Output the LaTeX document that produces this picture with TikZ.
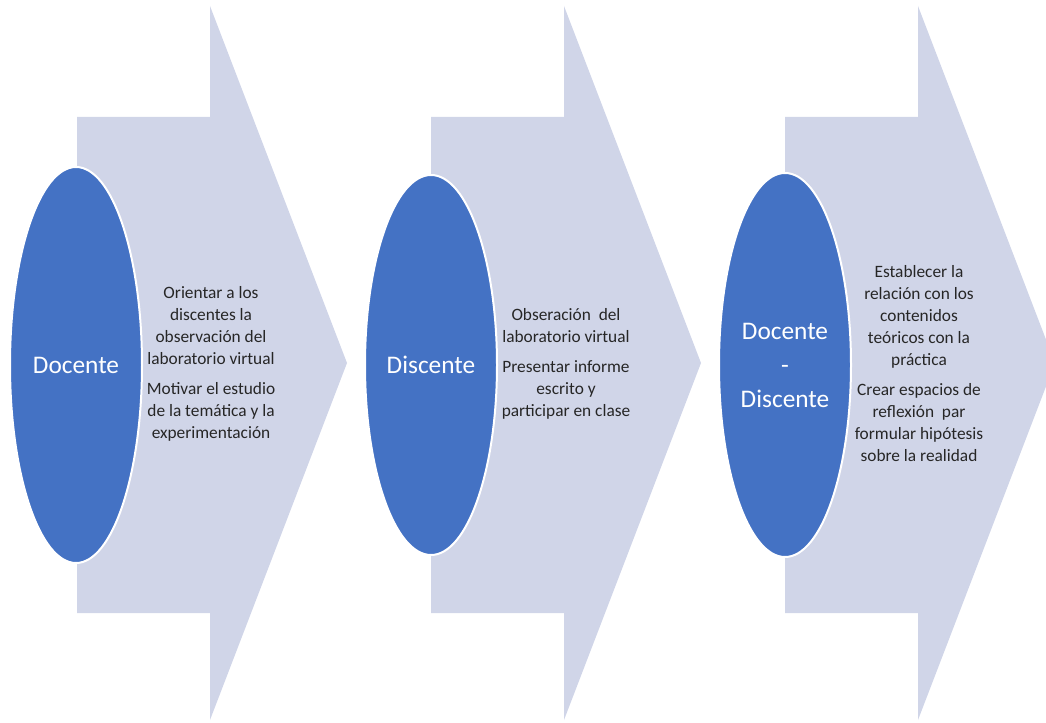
\documentclass[tikz,border=0pt]{standalone}
\usepackage{fontspec}
\setmainfont{Carlito}
\usetikzlibrary{shapes.geometric}
\definecolor{flechafill}{HTML}{D0D5E8}
\definecolor{etapafill}{HTML}{4472C4}
\definecolor{textogris}{HTML}{262626}

\begin{document}
\begin{tikzpicture}[x=0.75pt, y=-0.75pt,
  etapa/.style={ellipse, fill=etapafill, draw=white, line width=1.5pt,
    text=white, align=center, inner sep=0pt, minimum width=99pt,
    font=\fontsize{19}{25.5}\selectfont},
  texto/.style={align=center, inner sep=0pt, text=textogris,
    font=\fontsize{13}{16.5}\selectfont}]
  \useasboundingbox (0,0) rectangle (1046,723);
  \clip (0,0) rectangle (1046,723);

  % arrows
  \foreach \dx in {0,354,708}
    \fill[flechafill] (77+\dx,117) -- (210+\dx,117) -- (210+\dx,6)
      -- (347+\dx,363) -- (210+\dx,720) -- (210+\dx,613) -- (77+\dx,613) -- cycle;

  % nodes
  \node[etapa, minimum height=297pt] (doc) at (76,365) {Docente};
  \node[etapa, minimum height=285pt] (dis) at (431,365) {Discente};
  \node[etapa, minimum height=288pt] (docdis) at (785,365) {Docente\\-\\Discente};

  \node[texto] (tdoc) at (211,364) {Orientar a los\\ discentes la\\ observación del\\
    laboratorio virtual\\[6pt] Motivar el estudio\\ de la temática y la\\ experimentación};
  \node[texto] (tdis) at (566,364) {Obseración~~del\\ laboratorio virtual\\[6pt]
    Presentar informe\\ escrito y\\ participar en clase};
  \node[texto] (tdocdis) at (919,364) {Establecer la\\ relación con los\\ contenidos\\
    teóricos con la\\ práctica\\[6pt] Crear espacios de\\ reflexión~~par\\
    formular hipótesis\\ sobre la realidad};
\end{tikzpicture}
\end{document}
